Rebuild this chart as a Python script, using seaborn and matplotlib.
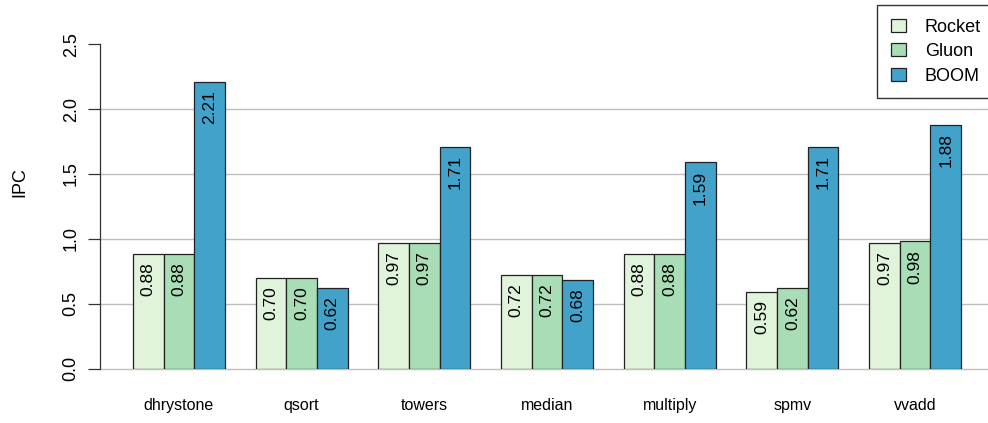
import matplotlib
matplotlib.use("Agg")
import matplotlib.pyplot as plt
import seaborn as sns
import pandas as pd

benchmarks = ["dhrystone", "qsort", "towers", "median", "multiply", "spmv", "vvadd"]
cores = ["Rocket", "Gluon", "BOOM"]
rocket_ipc = [0.88, 0.70, 0.97, 0.72, 0.88, 0.59, 0.97]
gluon_ipc = [0.88, 0.70, 0.97, 0.72, 0.88, 0.62, 0.98]
boom_ipc = [2.21, 0.62, 1.71, 0.68, 1.59, 1.71, 1.88]
y_ticks = [0.0, 0.5, 1.0, 1.5, 2.0, 2.5]
grid_levels = [0.0, 0.5, 1.0, 1.5, 2.0]
colors = {"Rocket": "#e0f3db", "Gluon": "#a8ddb5", "BOOM": "#43a2ca"}

series = {"Rocket": rocket_ipc, "Gluon": gluon_ipc, "BOOM": boom_ipc}
rows = []
for core in cores:
    for b, v in zip(benchmarks, series[core]):
        rows.append({"benchmark": b, "core": core, "IPC": v})
df = pd.DataFrame(rows)

sns.set_style("white")
plt.rcParams["font.family"] = ["Liberation Sans", "DejaVu Sans"]
plt.rcParams["text.color"] = "black"
plt.rcParams["xtick.labelcolor"] = "black"
plt.rcParams["ytick.labelcolor"] = "black"

W, H = 988, 423
fig = plt.figure(figsize=(W / 100, H / 100), dpi=100)
ax_left, ax_right = 100, 988
ax_top, ax_bottom = 44.3, 368.5
ax = fig.add_axes([ax_left / W, 1 - ax_bottom / H, (ax_right - ax_left) / W, (ax_bottom - ax_top) / H])

for g in grid_levels:
    ax.axhline(g, color="#bebebe", linewidth=1.0, zorder=0, clip_on=False)

sns.barplot(data=df, x="benchmark", y="IPC", hue="core", hue_order=cores,
            order=benchmarks, palette=colors, saturation=1, width=0.75, gap=0,
            edgecolor="#222222", linewidth=0.9, legend=False, ax=ax, zorder=2)

ax.set_xlim(-0.643, 6.594)
ax.set_ylim(0, 2.5)
ax.set_xlabel("")
ax.set_ylabel("")

for core, cont in zip(cores, ax.containers):
    for bar, v in zip(cont, series[core]):
        ax.annotate(f"{v:.2f}", xy=(bar.get_x() + bar.get_width() / 2, v),
                    xytext=(0, -6), textcoords="offset points",
                    rotation=90, ha="center", va="top", fontsize=12.5,
                    color="black", zorder=3)

for s in ["top", "right", "bottom"]:
    ax.spines[s].set_visible(False)
ax.spines["left"].set_color("#333333")
ax.spines["left"].set_linewidth(0.9)
ax.spines["left"].set_bounds(0, 2.5)

ax.set_yticks(y_ticks)
ax.set_yticklabels([f"{t:.1f}" for t in y_ticks], rotation=90, va="center", fontsize=13)
ax.tick_params(axis="y", left=True, length=8.6, width=0.9, color="#333333", pad=6)
ax.tick_params(axis="x", bottom=False, length=0, pad=21, labelsize=11.5)

fig.text(20 / W, 1 - 182 / H, "IPC", rotation=90, ha="center", va="center", fontsize=13)

leg = fig.legend(ax.containers, cores, loc="upper left",
                 bbox_to_anchor=(877 / W, 1 - 5 / H), bbox_transform=fig.transFigure,
                 fontsize=13, frameon=True, fancybox=False, edgecolor="black",
                 handlelength=0.85, handleheight=0.7, handletextpad=1.05,
                 labelspacing=0.42, borderpad=0.75, borderaxespad=0)
leg.get_frame().set_linewidth(1.0)

fig.savefig("out.png", dpi=100)
